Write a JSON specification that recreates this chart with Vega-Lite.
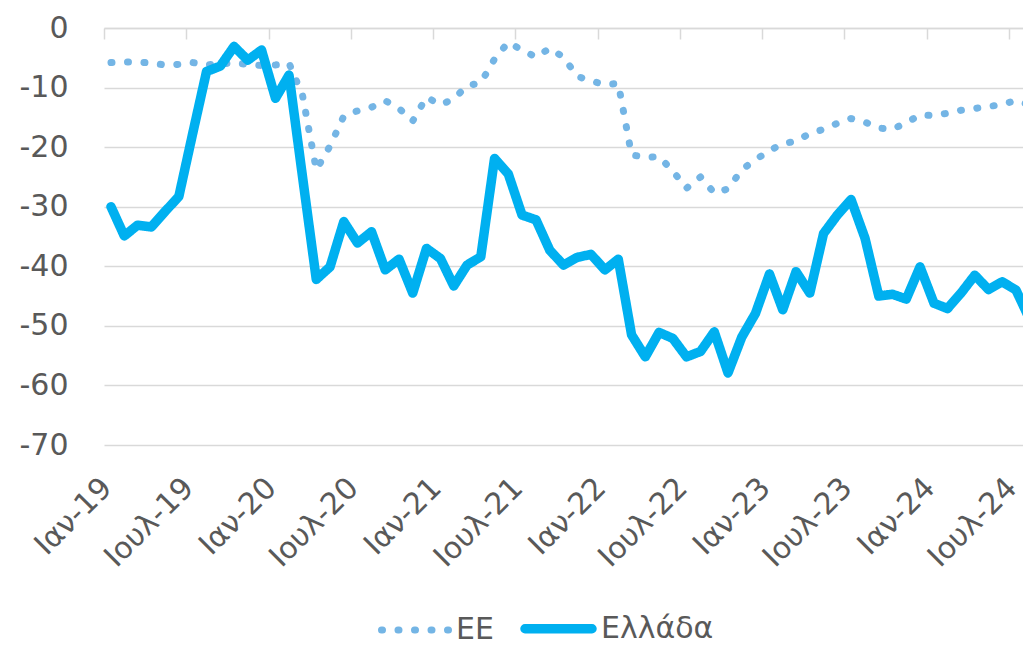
{
  "$schema": "https://vega.github.io/schema/vega-lite/v6.json",
  "width": 919,
  "height": 417,
  "autosize": {"type": "none"},
  "padding": {"left": 104, "top": 28, "right": 0, "bottom": 201},
  "background": "white",
  "config": {"view": {"stroke": null}, "font": "DejaVu Sans"},
  "data": {
    "values": [
      {"date":"2019-01-01","series":"EE","value":-5.8},
      {"date":"2019-02-01","series":"EE","value":-5.7},
      {"date":"2019-03-01","series":"EE","value":-5.7},
      {"date":"2019-04-01","series":"EE","value":-5.9},
      {"date":"2019-05-01","series":"EE","value":-6.2},
      {"date":"2019-06-01","series":"EE","value":-6.1},
      {"date":"2019-07-01","series":"EE","value":-5.8},
      {"date":"2019-08-01","series":"EE","value":-6.2},
      {"date":"2019-09-01","series":"EE","value":-6.0},
      {"date":"2019-10-01","series":"EE","value":-5.9},
      {"date":"2019-11-01","series":"EE","value":-6.1},
      {"date":"2019-12-01","series":"EE","value":-6.3},
      {"date":"2020-01-01","series":"EE","value":-6.2},
      {"date":"2020-02-01","series":"EE","value":-5.9},
      {"date":"2020-03-01","series":"EE","value":-11.3},
      {"date":"2020-04-01","series":"EE","value":-23.8},
      {"date":"2020-05-01","series":"EE","value":-19.8},
      {"date":"2020-06-01","series":"EE","value":-14.8},
      {"date":"2020-07-01","series":"EE","value":-13.9},
      {"date":"2020-08-01","series":"EE","value":-13.3},
      {"date":"2020-09-01","series":"EE","value":-12.2},
      {"date":"2020-10-01","series":"EE","value":-13.5},
      {"date":"2020-11-01","series":"EE","value":-15.6},
      {"date":"2020-12-01","series":"EE","value":-11.6},
      {"date":"2021-01-01","series":"EE","value":-12.9},
      {"date":"2021-02-01","series":"EE","value":-11.9},
      {"date":"2021-03-01","series":"EE","value":-9.7},
      {"date":"2021-04-01","series":"EE","value":-9.2},
      {"date":"2021-05-01","series":"EE","value":-5.2},
      {"date":"2021-06-01","series":"EE","value":-2.4},
      {"date":"2021-07-01","series":"EE","value":-3.7},
      {"date":"2021-08-01","series":"EE","value":-4.9},
      {"date":"2021-09-01","series":"EE","value":-3.4},
      {"date":"2021-10-01","series":"EE","value":-4.9},
      {"date":"2021-11-01","series":"EE","value":-8.1},
      {"date":"2021-12-01","series":"EE","value":-8.9},
      {"date":"2022-01-01","series":"EE","value":-9.5},
      {"date":"2022-02-01","series":"EE","value":-9.3},
      {"date":"2022-03-01","series":"EE","value":-21.3},
      {"date":"2022-04-01","series":"EE","value":-21.7},
      {"date":"2022-05-01","series":"EE","value":-21.6},
      {"date":"2022-06-01","series":"EE","value":-24.0},
      {"date":"2022-07-01","series":"EE","value":-26.9},
      {"date":"2022-08-01","series":"EE","value":-25.0},
      {"date":"2022-09-01","series":"EE","value":-27.7},
      {"date":"2022-10-01","series":"EE","value":-27.0},
      {"date":"2022-11-01","series":"EE","value":-23.8},
      {"date":"2022-12-01","series":"EE","value":-22.1},
      {"date":"2023-01-01","series":"EE","value":-20.6},
      {"date":"2023-02-01","series":"EE","value":-19.4},
      {"date":"2023-03-01","series":"EE","value":-19.0},
      {"date":"2023-04-01","series":"EE","value":-17.7},
      {"date":"2023-05-01","series":"EE","value":-17.0},
      {"date":"2023-06-01","series":"EE","value":-16.0},
      {"date":"2023-07-01","series":"EE","value":-15.2},
      {"date":"2023-08-01","series":"EE","value":-15.8},
      {"date":"2023-09-01","series":"EE","value":-16.8},
      {"date":"2023-10-01","series":"EE","value":-17.0},
      {"date":"2023-11-01","series":"EE","value":-15.9},
      {"date":"2023-12-01","series":"EE","value":-14.6},
      {"date":"2024-01-01","series":"EE","value":-14.7},
      {"date":"2024-02-01","series":"EE","value":-14.3},
      {"date":"2024-03-01","series":"EE","value":-13.8},
      {"date":"2024-04-01","series":"EE","value":-13.5},
      {"date":"2024-05-01","series":"EE","value":-13.2},
      {"date":"2024-06-01","series":"EE","value":-12.8},
      {"date":"2024-07-01","series":"EE","value":-12.2},
      {"date":"2024-08-01","series":"EE","value":-12.9},
      {"date":"2019-01-01","series":"Ελλάδα","value":-30.0},
      {"date":"2019-02-01","series":"Ελλάδα","value":-34.9},
      {"date":"2019-03-01","series":"Ελλάδα","value":-33.1},
      {"date":"2019-04-01","series":"Ελλάδα","value":-33.4},
      {"date":"2019-05-01","series":"Ελλάδα","value":-30.8},
      {"date":"2019-06-01","series":"Ελλάδα","value":-28.3},
      {"date":"2019-07-01","series":"Ελλάδα","value":-17.8},
      {"date":"2019-08-01","series":"Ελλάδα","value":-7.3},
      {"date":"2019-09-01","series":"Ελλάδα","value":-6.4},
      {"date":"2019-10-01","series":"Ελλάδα","value":-3.1},
      {"date":"2019-11-01","series":"Ελλάδα","value":-5.4},
      {"date":"2019-12-01","series":"Ελλάδα","value":-3.7},
      {"date":"2020-01-01","series":"Ελλάδα","value":-11.8},
      {"date":"2020-02-01","series":"Ελλάδα","value":-7.9},
      {"date":"2020-03-01","series":"Ελλάδα","value":-25.0},
      {"date":"2020-04-01","series":"Ελλάδα","value":-42.2},
      {"date":"2020-05-01","series":"Ελλάδα","value":-40.1},
      {"date":"2020-06-01","series":"Ελλάδα","value":-32.5},
      {"date":"2020-07-01","series":"Ελλάδα","value":-36.1},
      {"date":"2020-08-01","series":"Ελλάδα","value":-34.2},
      {"date":"2020-09-01","series":"Ελλάδα","value":-40.6},
      {"date":"2020-10-01","series":"Ελλάδα","value":-38.8},
      {"date":"2020-11-01","series":"Ελλάδα","value":-44.5},
      {"date":"2020-12-01","series":"Ελλάδα","value":-37.0},
      {"date":"2021-01-01","series":"Ελλάδα","value":-38.7},
      {"date":"2021-02-01","series":"Ελλάδα","value":-43.3},
      {"date":"2021-03-01","series":"Ελλάδα","value":-39.8},
      {"date":"2021-04-01","series":"Ελλάδα","value":-38.4},
      {"date":"2021-05-01","series":"Ελλάδα","value":-21.9},
      {"date":"2021-06-01","series":"Ελλάδα","value":-24.5},
      {"date":"2021-07-01","series":"Ελλάδα","value":-31.4},
      {"date":"2021-08-01","series":"Ελλάδα","value":-32.2},
      {"date":"2021-09-01","series":"Ελλάδα","value":-37.3},
      {"date":"2021-10-01","series":"Ελλάδα","value":-39.8},
      {"date":"2021-11-01","series":"Ελλάδα","value":-38.5},
      {"date":"2021-12-01","series":"Ελλάδα","value":-38.0},
      {"date":"2022-01-01","series":"Ελλάδα","value":-40.6},
      {"date":"2022-02-01","series":"Ελλάδα","value":-38.8},
      {"date":"2022-03-01","series":"Ελλάδα","value":-51.5},
      {"date":"2022-04-01","series":"Ελλάδα","value":-55.2},
      {"date":"2022-05-01","series":"Ελλάδα","value":-51.1},
      {"date":"2022-06-01","series":"Ελλάδα","value":-52.1},
      {"date":"2022-07-01","series":"Ελλάδα","value":-55.2},
      {"date":"2022-08-01","series":"Ελλάδα","value":-54.3},
      {"date":"2022-09-01","series":"Ελλάδα","value":-51.0},
      {"date":"2022-10-01","series":"Ελλάδα","value":-57.9},
      {"date":"2022-11-01","series":"Ελλάδα","value":-51.9},
      {"date":"2022-12-01","series":"Ελλάδα","value":-47.9},
      {"date":"2023-01-01","series":"Ελλάδα","value":-41.3},
      {"date":"2023-02-01","series":"Ελλάδα","value":-47.3},
      {"date":"2023-03-01","series":"Ελλάδα","value":-40.9},
      {"date":"2023-04-01","series":"Ελλάδα","value":-44.5},
      {"date":"2023-05-01","series":"Ελλάδα","value":-34.5},
      {"date":"2023-06-01","series":"Ελλάδα","value":-31.4},
      {"date":"2023-07-01","series":"Ελλάδα","value":-28.8},
      {"date":"2023-08-01","series":"Ελλάδα","value":-35.3},
      {"date":"2023-09-01","series":"Ελλάδα","value":-45.0},
      {"date":"2023-10-01","series":"Ελλάδα","value":-44.7},
      {"date":"2023-11-01","series":"Ελλάδα","value":-45.5},
      {"date":"2023-12-01","series":"Ελλάδα","value":-40.1},
      {"date":"2024-01-01","series":"Ελλάδα","value":-46.2},
      {"date":"2024-02-01","series":"Ελλάδα","value":-47.1},
      {"date":"2024-03-01","series":"Ελλάδα","value":-44.5},
      {"date":"2024-04-01","series":"Ελλάδα","value":-41.5},
      {"date":"2024-05-01","series":"Ελλάδα","value":-43.9},
      {"date":"2024-06-01","series":"Ελλάδα","value":-42.6},
      {"date":"2024-07-01","series":"Ελλάδα","value":-44.0},
      {"date":"2024-08-01","series":"Ελλάδα","value":-49.0}
    ]
  },
  "layer": [
    {
      "mark": {"type": "line", "strokeCap": "round", "strokeJoin": "round", "clip": true},
      "encoding": {
        "x": {
          "field": "date", "type": "temporal", "timeUnit": "utcyearmonth", "bandPosition": 0.5,
          "scale": {"type": "utc", "domain": [{"year": 2019, "month": 1, "date": 1, "utc": true}, {"year": 2024, "month": 8, "date": 1, "utc": true}]},
          "axis": {
            "orient": "bottom", "title": null, "ticks": false, "domain": false, "grid": false,
            "values": [
              {"year": 2019, "month": 1, "date": 7, "utc": true}, {"year": 2019, "month": 7, "date": 7, "utc": true},
              {"year": 2020, "month": 1, "date": 7, "utc": true}, {"year": 2020, "month": 7, "date": 7, "utc": true},
              {"year": 2021, "month": 1, "date": 7, "utc": true}, {"year": 2021, "month": 7, "date": 7, "utc": true},
              {"year": 2022, "month": 1, "date": 7, "utc": true}, {"year": 2022, "month": 7, "date": 7, "utc": true},
              {"year": 2023, "month": 1, "date": 7, "utc": true}, {"year": 2023, "month": 7, "date": 7, "utc": true},
              {"year": 2024, "month": 1, "date": 7, "utc": true}, {"year": 2024, "month": 7, "date": 7, "utc": true}
            ],
            "labelExpr": "(utcmonth(datum.value) == 0 ? 'Ιαν-' : 'Ιουλ-') + utcFormat(datum.value, '%y')",
            "labelAngle": -45, "labelAlign": "right", "labelBaseline": "middle",
            "labelFontSize": 30, "labelFont": "DejaVu Sans", "labelColor": "#595959",
            "labelPadding": 38, "labelOverlap": false, "labelBound": false, "labelFlush": false
          }
        },
        "y": {
          "field": "value", "type": "quantitative",
          "scale": {"domain": [-70, 0], "nice": false, "zero": false},
          "axis": {"title": null, "values": [-70, -60, -50, -40, -30, -20, -10, 0], "labelExpr": "'' + datum.value", "grid": true, "gridColor": "#D9D9D9", "gridWidth": 1.5, "domain": false, "ticks": false, "labelFontSize": 30, "labelFont": "DejaVu Sans", "labelColor": "#595959", "labelPadding": 36}
        },
        "color": {
          "field": "series", "type": "nominal",
          "scale": {"domain": ["EE", "Ελλάδα"], "range": ["#74B5E5", "#00B0F0"]},
          "legend": {
            "orient": "none", "legendX": 274, "legendY": 562, "direction": "horizontal", "title": null,
            "symbolType": "stroke", "symbolSize": 4489, "labelFontSize": 30, "labelFont": "DejaVu Sans", "labelColor": "#595959",
            "labelOffset": 4, "columnPadding": 12, "padding": 0,
            "encode": {"symbols": {"update": {"strokeCap": {"value": "round"}}}}
          }
        },
        "strokeDash": {
          "field": "series", "type": "nominal",
          "scale": {"domain": ["EE", "Ελλάδα"], "range": [[1, 15.5], [1, 0]]}
        },
        "strokeWidth": {
          "field": "series", "type": "nominal",
          "scale": {"type": "point", "padding": 0, "domain": ["EE", "Ελλάδα"], "range": [7, 9.5]}
        }
      }
    },
    {
      "mark": {"type": "line", "opacity": 0},
      "encoding": {
        "x": {
          "field": "date", "type": "temporal", "timeUnit": "utcyearmonth", "bandPosition": 0.5,
          "axis": {
            "orient": "top", "title": null, "labels": false, "grid": false,
            "ticks": true, "tickSize": -11, "tickColor": "#D9D9D9", "tickWidth": 1.5,
            "domain": true, "domainColor": "#D9D9D9", "domainWidth": 1.5,
            "values": [
              {"year": 2019, "month": 1, "date": 1, "utc": true}, {"year": 2019, "month": 7, "date": 1, "utc": true},
              {"year": 2020, "month": 1, "date": 1, "utc": true}, {"year": 2020, "month": 7, "date": 1, "utc": true},
              {"year": 2021, "month": 1, "date": 1, "utc": true}, {"year": 2021, "month": 7, "date": 1, "utc": true},
              {"year": 2022, "month": 1, "date": 1, "utc": true}, {"year": 2022, "month": 7, "date": 1, "utc": true},
              {"year": 2023, "month": 1, "date": 1, "utc": true}, {"year": 2023, "month": 7, "date": 1, "utc": true},
              {"year": 2024, "month": 1, "date": 1, "utc": true}, {"year": 2024, "month": 7, "date": 1, "utc": true}
            ]
          }
        },
        "y": {"field": "value", "type": "quantitative"}
      }
    }
  ],
  "resolve": {"axis": {"x": "independent"}}
}
